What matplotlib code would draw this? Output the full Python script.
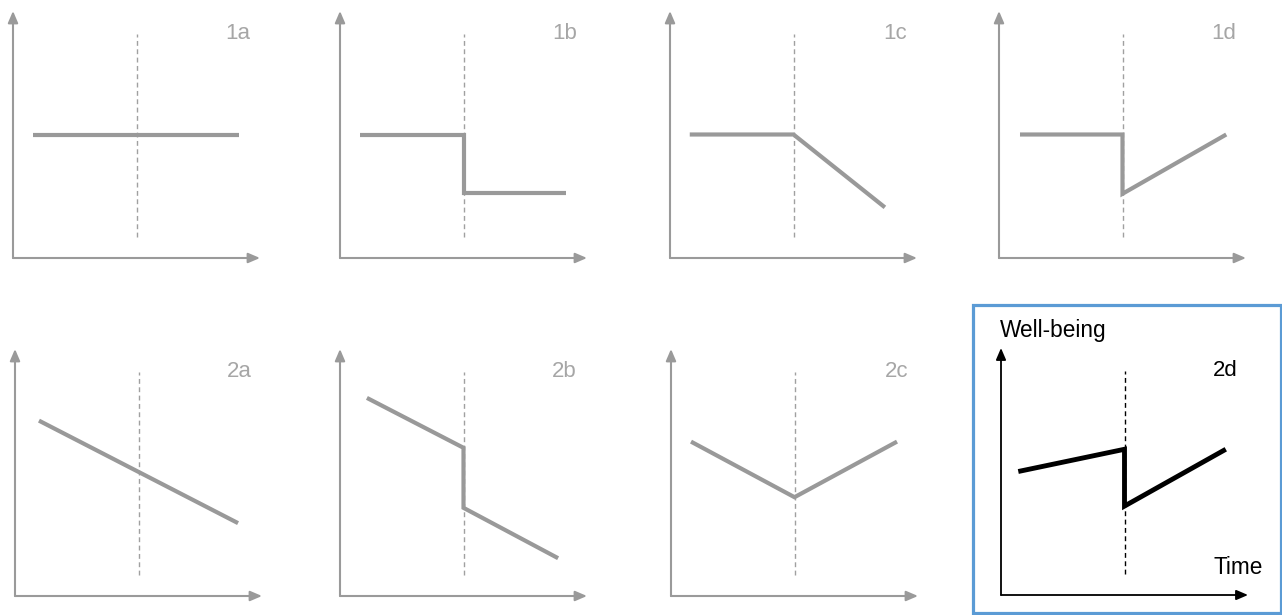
import matplotlib.pyplot as plt
from matplotlib.patches import Rectangle

plt.rcParams['font.family'] = ['Liberation Sans', 'DejaVu Sans']

# Panel labels and the well-being paths (time, well-being), event at t = 5
labels = ["1a", "1b", "1c", "1d", "2a", "2b", "2c", "2d"]
time_1a = [0.8, 9.15]
wb_1a = [5.0, 5.0]
time_1b = [0.8, 5.0, 5.0, 9.15]
wb_1b = [5.0, 5.0, 2.65, 2.65]
time_1c = [0.8, 5.0, 8.7]
wb_1c = [5.0, 5.0, 2.05]
time_1d = [0.85, 5.0, 5.0, 9.2]
wb_1d = [5.0, 5.0, 2.6, 5.0]
time_2a = [0.97, 9.03]
wb_2a = [7.1, 2.95]
time_2b = [1.09, 5.0, 5.0, 8.83]
wb_2b = [8.02, 6.0, 3.57, 1.53]
time_2c = [0.81, 5.0, 9.15]
wb_2c = [6.25, 4.0, 6.25]
time_2d = [0.7, 5.0, 5.0, 9.1]
wb_2d = [5.0, 5.9, 3.6, 5.9]

event_time = 5.0
dash_range = [0.85, 9.08]

times = [time_1a, time_1b, time_1c, time_1d, time_2a, time_2b, time_2c, time_2d]
wbs = [wb_1a, wb_1b, wb_1c, wb_1d, wb_2a, wb_2b, wb_2c, wb_2d]

W, H = 1282, 615
fig = plt.figure(figsize=(W / 100, H / 100), dpi=100)

# axis origin of each panel in pixels (from top-left)
origins = [(13, 258), (340, 258), (670, 258), (999, 258),
           (15, 596), (340, 596), (671, 596), (1001, 595)]
size = 247

grey = "#9a9a9a"
for i, lab in enumerate(labels):
    ox, oy = origins[i]
    ax = fig.add_axes([ox / W, (H - oy) / H, size / W, size / H])
    ax.set_xlim(0, 10)
    ax.set_ylim(0, 10)
    ax.axis("off")
    highlight = lab == "2d"
    ac = "black" if highlight else grey
    lc = "black" if highlight else "#999999"
    tc = "black" if highlight else "#a6a6a6"

    arrow = dict(arrowstyle="-|>,head_length=0.7,head_width=0.3", color=ac,
                 lw=1.3 if highlight else 1.5, shrinkA=0, shrinkB=0)
    ax.annotate("", xy=(10, 0), xytext=(0, 0), arrowprops=arrow,
                annotation_clip=False)
    ax.annotate("", xy=(0, 10), xytext=(0, 0), arrowprops=arrow,
                annotation_clip=False)

    ax.plot([event_time, event_time], dash_range, color=ac if highlight else "#a0a0a0",
            lw=1.0, ls=(0, (3.5, 2.5)))
    ax.plot(times[i], wbs[i], color=lc, lw=3.5 if highlight else 3.0,
            solid_joinstyle="miter", solid_capstyle="butt", clip_on=False)

    ax.text(9.6, 9.07, lab, ha="right", va="center", fontsize=16, color=tc)
    if highlight:
        ax.text(-0.05, 10.7, "Well-being", ha="left", va="center",
                fontsize=16.3, color="black", clip_on=False)
        ax.text(10.6, 1.13, "Time", ha="right", va="center",
                fontsize=16.3, color="black", clip_on=False)

# blue frame round panel 2d
fig.patches.append(Rectangle((973 / W, (H - 613) / H), (1281 - 973) / W, (613 - 305) / H,
                             transform=fig.transFigure, fill=False,
                             ec="#5b9bd5", lw=2.3))

plt.savefig("out.png", dpi=100)
